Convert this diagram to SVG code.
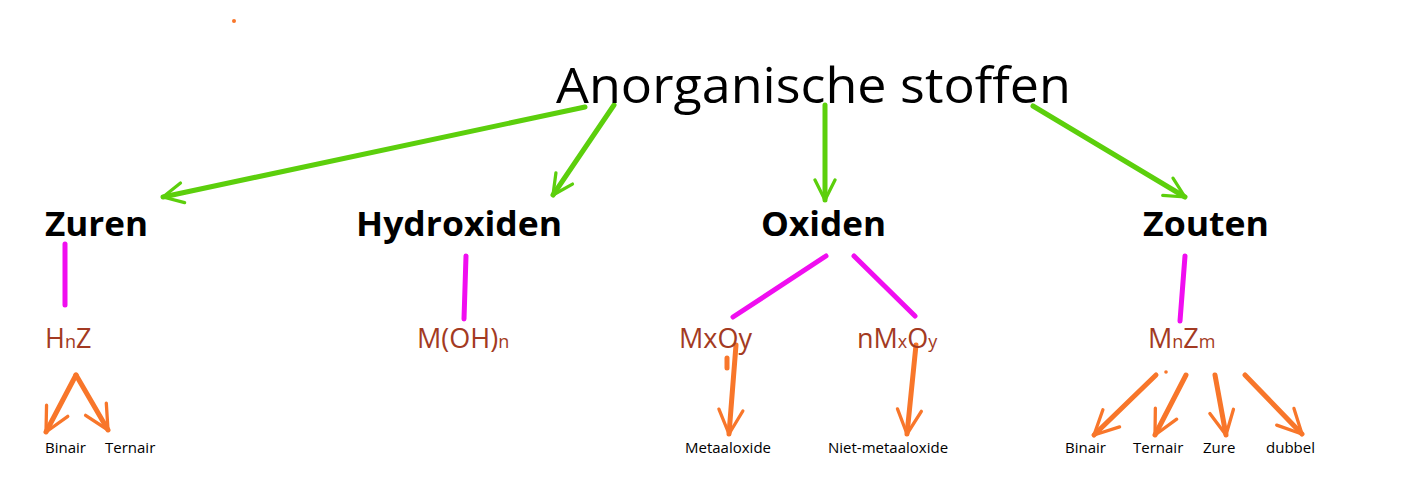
<svg xmlns="http://www.w3.org/2000/svg" width="1403" height="480" viewBox="0 0 1403 480">
<style>
text{font-family:"Open Sans","Noto Sans",sans-serif}
.t{font-size:50px;fill:#000}
.h{font-size:34px;font-weight:bold;fill:#000}
.f{font-size:27px;fill:#a33a22}
.s{font-size:15px;fill:#000}
.g{stroke:#5ccf0c;stroke-width:5;stroke-linecap:round;fill:none}
.m{stroke:#f00ef0;stroke-width:5;stroke-linecap:round;fill:none}
.o{stroke:#f8762a;stroke-width:5;stroke-linecap:round;fill:none}
</style>
<defs>
<marker id="ag" viewBox="0 0 10 10" refX="9" refY="5" markerWidth="5" markerHeight="5" orient="auto" markerUnits="strokeWidth"><path d="M1,1 L9,5 L1,9" fill="none" stroke="#5ccf0c" stroke-width="1.3" stroke-linecap="round" stroke-linejoin="round"/></marker>
<marker id="ao" viewBox="0 0 10 10" refX="9" refY="5" markerWidth="6" markerHeight="6" orient="auto" markerUnits="strokeWidth"><path d="M1,1 L9,5 L1,9" fill="none" stroke="#f8762a" stroke-width="1.1" stroke-linecap="round" stroke-linejoin="round"/></marker>
</defs>
<rect width="1403" height="480" fill="#fff"/>
<circle cx="234" cy="21" r="2" fill="#f8762a"/>
<g id="connectors">
<path class="g" d="M585,107 L163,197" marker-end="url(#ag)"/>
<path class="g" d="M614,105 L553,195" marker-end="url(#ag)"/>
<path class="g" d="M825,105 L825,200" marker-end="url(#ag)"/>
<path class="g" d="M1033,106 L1185,197" marker-end="url(#ag)"/>
<path class="m" d="M65,244 L65,305"/>
<path class="m" d="M466,256 L464,319"/>
<path class="m" d="M826,256 L733,317"/>
<path class="m" d="M854,256 L915,316"/>
<path class="m" d="M1185,256 L1180,321"/>
<path class="o" d="M76,375 L46,432" marker-end="url(#ao)"/>
<path class="o" d="M76,375 L108,430" marker-end="url(#ao)"/>
<path class="o" d="M736,345 L729,434" marker-end="url(#ao)"/>
<path class="o" d="M916,345 L907,434" marker-end="url(#ao)"/>
<path class="o" d="M1156,375 L1094,435" marker-end="url(#ao)"/>
<path class="o" d="M1186,375 L1155,435" marker-end="url(#ao)"/>
<path class="o" d="M1215,375 L1226,435" marker-end="url(#ao)"/>
<path class="o" d="M1245,375 L1302,434" marker-end="url(#ao)"/>
<path class="o" d="M727,358 L727,368"/>
<circle cx="1166" cy="372" r="1.8" fill="#f8762a"/>
</g>
<g id="title"><text class="t" x="556" y="103" textLength="515" lengthAdjust="spacingAndGlyphs">Anorganische stoffen</text></g>
<g id="zuren"><text class="h" x="45" y="236" textLength="103" lengthAdjust="spacingAndGlyphs">Zuren</text></g>
<g id="hydroxiden"><text class="h" x="356" y="236" textLength="206" lengthAdjust="spacingAndGlyphs">Hydroxiden</text></g>
<g id="oxiden"><text class="h" x="761" y="236" textLength="125" lengthAdjust="spacingAndGlyphs">Oxiden</text></g>
<g id="zouten"><text class="h" x="1143" y="236" textLength="126" lengthAdjust="spacingAndGlyphs">Zouten</text></g>
<g id="hnz"><text class="f" x="45" y="348">H<tspan font-size="18">n</tspan>Z</text></g>
<g id="moh"><text class="f" x="417" y="348">M(OH)<tspan font-size="18">n</tspan></text></g>
<g id="mxoy"><text class="f" x="679" y="348">MxOy</text></g>
<g id="nmxoy"><text class="f" x="857" y="348">nM<tspan font-size="18">x</tspan>O<tspan font-size="18">y</tspan></text></g>
<g id="mnzm"><text class="f" x="1148" y="348">M<tspan font-size="18">n</tspan>Z<tspan font-size="18">m</tspan></text></g>
<g id="labels">
<text class="s" x="45" y="453">Binair</text>
<text class="s" x="105" y="453">Ternair</text>
<text class="s" x="685" y="453">Metaaloxide</text>
<text class="s" x="828" y="453">Niet-metaaloxide</text>
<text class="s" x="1065" y="453">Binair</text>
<text class="s" x="1133" y="453">Ternair</text>
<text class="s" x="1203" y="453">Zure</text>
<text class="s" x="1266" y="453">dubbel</text>
</g>
</svg>
